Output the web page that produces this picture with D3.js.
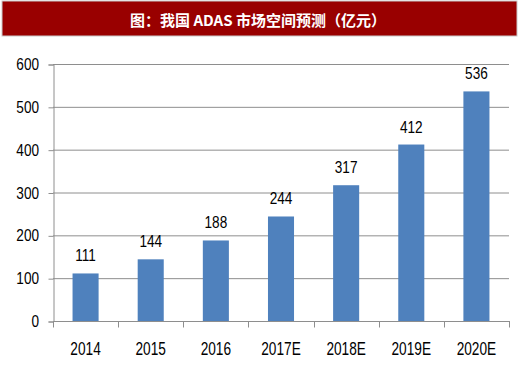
<!DOCTYPE html>
<html>
<head>
<meta charset="utf-8">
<script src="https://cdn.jsdelivr.net/npm/d3@7"></script>
<style>
  body { margin: 0; background: #fff; }
  svg { display: block; }
</style>
</head>
<body>
<div id="chart"></div>
<script>
var _width = 520;
var _height = 369;

var categories = ["2014", "2015", "2016", "2017E", "2018E", "2019E", "2020E"];
var values = [111, 144, 188, 244, 317, 412, 536];
var yTicks = [0, 100, 200, 300, 400, 500, 600];
var title = "图：我国 ADAS 市场空间预测（亿元）";

var _left = 53, _right = 509, _top = 64, _bottom = 321;
var _font = "'Liberation Sans', Arial, sans-serif";

var svg = d3.select("#chart").append("svg")
    .attr("width", _width)
    .attr("height", _height);

// narrow text: normal font squeezed horizontally
function narrowText(g, px, py, str, size, sx, anchor) {
    return g.append("text")
        .attr("transform", "translate(" + px + "," + py + ") scale(" + sx + ",1)")
        .attr("text-anchor", anchor)
        .attr("font-family", _font)
        .attr("font-size", size)
        .attr("fill", "#000")
        .text(str);
}

// title banner
svg.append("rect")
    .attr("x", 2).attr("y", 1)
    .attr("width", 515).attr("height", 35)
    .attr("fill", "#990000")
    .attr("stroke", "#c9c9c9")
    .attr("stroke-width", 1);

svg.append("text")
    .attr("x", 258).attr("y", 19)
    .attr("text-anchor", "middle")
    .attr("dominant-baseline", "central")
    .attr("fill", "#fff")
    .attr("font-family", "'Noto Sans CJK SC', sans-serif")
    .attr("font-weight", "bold")
    .attr("font-size", 15)
    .text(title);

var x = d3.scaleBand().domain(categories).range([_left, _right]).paddingInner(0.6).paddingOuter(0.3);
var y = d3.scaleLinear().domain([0, 600]).range([_bottom, _top]);

// gridlines
svg.append("g").selectAll("line").data(yTicks.slice(1)).enter().append("line")
    .attr("x1", _left).attr("x2", _right)
    .attr("y1", function (d) { return y(d) + 0.5; })
    .attr("y2", function (d) { return y(d) + 0.5; })
    .attr("stroke", "#8e8e8e")
    .attr("stroke-width", 1);

// y axis
var yAxis = svg.append("g")
    .attr("transform", "translate(" + (_left + 0.5) + ",0.5)")
    .call(d3.axisLeft(y).tickValues(yTicks).tickSize(5).tickFormat(""));
yAxis.selectAll("line, path").attr("stroke", "#8e8e8e");
var yLab = svg.append("g");
yTicks.forEach(function (t) {
    narrowText(yLab, 39, y(t) + 6, t, 17, 0.8, "end");
});

// bars
svg.append("g").selectAll("rect").data(values).enter().append("rect")
    .attr("x", function (d, i) { return x(categories[i]); })
    .attr("y", function (d) { return y(d); })
    .attr("width", x.bandwidth())
    .attr("height", function (d) { return _bottom - y(d); })
    .attr("fill", "#4f81bd");

// value labels
var vLab = svg.append("g");
values.forEach(function (d, i) {
    narrowText(vLab, x(categories[i]) + x.bandwidth() / 2, y(d) - 12, d, 17, 0.8, "middle");
});

// x axis with separators between categories
var xAxisG = svg.append("g").attr("transform", "translate(0," + (_bottom + 0.5) + ")");
xAxisG.append("line")
    .attr("x1", _left).attr("x2", _right + 1)
    .attr("stroke", "#8e8e8e");
var step = (_right - _left) / categories.length;
xAxisG.selectAll("line.sep").data(d3.range(categories.length + 1)).enter().append("line")
    .attr("class", "sep")
    .attr("x1", function (d) { return Math.round(_left + d * step) + 0.5; })
    .attr("x2", function (d) { return Math.round(_left + d * step) + 0.5; })
    .attr("y1", 0).attr("y2", 6)
    .attr("stroke", "#8e8e8e");
categories.forEach(function (c) {
    narrowText(xAxisG, x(c) + x.bandwidth() / 2, 33, c, 18, 0.76, "middle");
});
</script>
</body>
</html>
